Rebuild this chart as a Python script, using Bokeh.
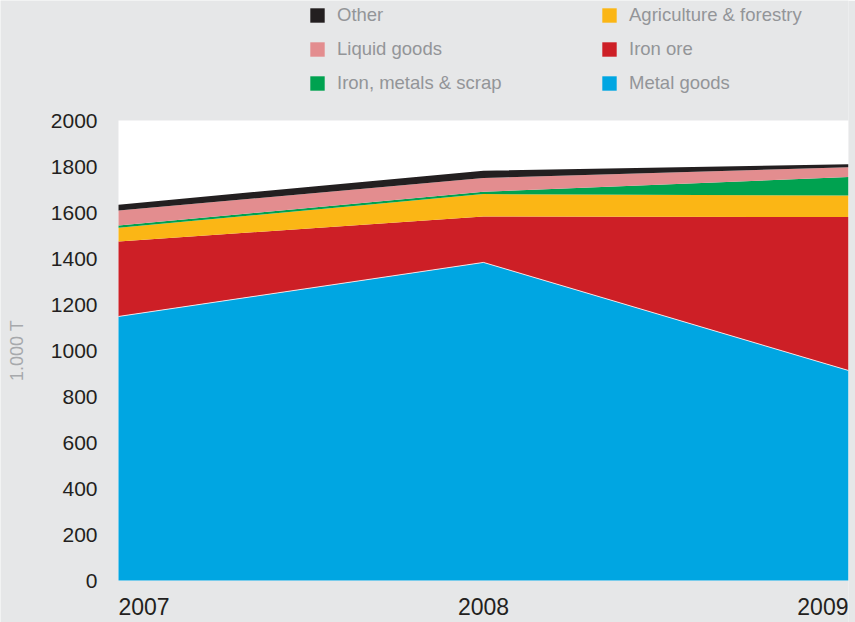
from bokeh.plotting import figure
from bokeh.models import (ColumnDataSource, Range1d, FixedTicker, Legend, LegendItem,
                          LabelSet, BoxAnnotation, Label)
from bokeh.core.properties import value
from bokeh.embed import file_html
from bokeh.resources import INLINE
import math

years = [2007, 2008, 2009]
year_labels = ["2007", "2008", "2009"]
metal_goods = [1148, 1383, 913]
iron_ore = [326, 200, 667]
agriculture = [60, 97, 94]
iron_metals_scrap = [10, 10, 80]
liquid_goods = [65, 60, 43]
other = [25, 32, 13]
y_axis_title = "1.000 T"

series_names = ["Metal goods", "Iron ore", "Agriculture & forestry",
                "Iron, metals & scrap", "Liquid goods", "Other"]
series_keys = ["metal", "ore", "agri", "scrap", "liquid", "other"]
colors = ["#00a6e2", "#cd1f26", "#fbb615", "#00a250", "#e38d8f", "#231f20"]

BG = "#e6e7e8"
FONT = "Liberation Sans"
Y_MIN, Y_MAX = 0, 2000

# layout (pixels)
W, H = 855, 622
LEFT, RIGHT = 118, 848
PLOT_TOP, PLOT_BOTTOM = 120, 580
py = (PLOT_BOTTOM - PLOT_TOP) / (Y_MAX - Y_MIN)
px = (RIGHT - LEFT) / (years[-1] - years[0])
y_start = Y_MIN - (H - PLOT_BOTTOM) / py
y_end = Y_MAX + PLOT_TOP / py
x_start = years[0] - LEFT / px

src = ColumnDataSource(dict(x=years, metal=metal_goods, ore=iron_ore, agri=agriculture,
                            scrap=iron_metals_scrap, liquid=liquid_goods, other=other))

p = figure(width=W, height=H, output_backend="svg", toolbar_location=None,
           x_range=Range1d(x_start, years[-1]), y_range=Range1d(y_start, y_end),
           min_border_left=0, min_border_right=W - RIGHT, min_border_top=0,
           min_border_bottom=0)
p.background_fill_color = BG
p.border_fill_color = BG
p.outline_line_color = None
p.grid.visible = False

p.add_layout(BoxAnnotation(left=years[0], right=years[-1], bottom=Y_MIN, top=Y_MAX,
                           fill_color="white", fill_alpha=1, line_color=None,
                           level="underlay"))

rs = p.varea_stack(stackers=series_keys, x="x", color=colors, source=src)
p.line(x=years, y=metal_goods, line_color="white", line_width=1, line_alpha=0.8)

# axes
p.xaxis.visible = False
ya = p.yaxis[0]
ya.fixed_location = years[0]
ya.ticker = FixedTicker(ticks=list(range(Y_MIN, Y_MAX + 1, 200)))
ya.axis_line_color = None
ya.major_tick_line_color = None
ya.minor_tick_line_color = None
ya.major_tick_out = 0
ya.major_tick_in = 0
ya.major_label_standoff = 21
ya.major_label_text_font = FONT
ya.major_label_text_font_size = "21px"
ya.major_label_text_color = "#231f20"

# y-axis title, centred on the 0..2000 plot area
p.add_layout(Label(x=16, x_units="screen", y=(Y_MIN + Y_MAX) / 2, text=y_axis_title,
                   angle=math.pi / 2, text_align="center", text_baseline="middle",
                   text_font=FONT, text_font_size="18px", text_color="#a7a9ac"))

xlab = ColumnDataSource(dict(x=years, y=[Y_MIN] * 3, text=year_labels,
                             align=["left", "center", "right"]))
p.add_layout(LabelSet(x="x", y="y", text="text", source=xlab, text_align="align",
                      text_baseline="alphabetic", y_offset=-34, text_font=value(FONT),
                      text_font_size="23px", text_color="#231f20"))

# legends (two columns)
items_by_key = {k: r for k, r in zip(series_keys, rs)}
name_by_key = dict(zip(series_keys, series_names))
col1 = ["other", "liquid", "scrap"]
col2 = ["agri", "ore", "metal"]
for col, xloc in ((col1, 308), (col2, 600)):
    leg = Legend(items=[LegendItem(label=name_by_key[k], renderers=[items_by_key[k]]) for k in col],
                 location=(xloc, H - 4 - 90), orientation="vertical",
                 glyph_width=18, glyph_height=18, label_height=18, label_standoff=11,
                 spacing=12, padding=0, margin=0, border_line_color=None,
                 background_fill_alpha=0, label_text_font=FONT,
                 label_text_font_size="18.5px", label_text_color="#939598")
    p.add_layout(leg, "center")

open("out.html", "w").write(file_html(p, INLINE))
